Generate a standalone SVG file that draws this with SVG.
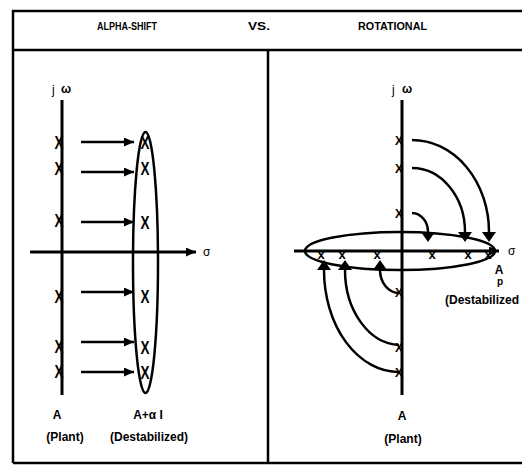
<svg xmlns="http://www.w3.org/2000/svg" width="522" height="465" viewBox="0 0 522 465">
<style>
.frame{stroke:#000;stroke-width:2.5;fill:none}
.axis{stroke:#000;stroke-width:3;fill:none}
.ln{stroke:#000;stroke-width:2.5;fill:none}
.t{font-family:"Liberation Sans",Arial,sans-serif;font-weight:bold;fill:#000}
.h{font-size:10.5px}
.lbl{font-size:12px}
.xm{font-size:18px;text-anchor:middle}
.xs{font-size:13px;text-anchor:middle}
</style>
<defs>
<marker id="ah" viewBox="0 0 10 9" refX="10" refY="4.5" markerWidth="10" markerHeight="9" markerUnits="userSpaceOnUse" orient="auto"><path d="M0,0 L10,4.5 L0,9 z" fill="#000"/></marker>
<marker id="tri" viewBox="0 0 10 14" refX="0" refY="7" markerWidth="10" markerHeight="14" markerUnits="userSpaceOnUse" orient="auto"><path d="M0,0 L10,7 L0,14 z" fill="#000"/></marker>
</defs>
<g id="frame">
<path class="frame" d="M13,463 V11 H522"/>
<path class="frame" d="M13,50 H522"/>
<path class="frame" d="M13,463 H522"/>
<path class="frame" d="M268,50 V463"/>
</g>
<g id="header">
<text class="t h" x="97" y="30" textLength="60" lengthAdjust="spacingAndGlyphs">ALPHA-SHIFT</text>
<text class="t h" x="248" y="30" textLength="22" lengthAdjust="spacingAndGlyphs">VS.</text>
<text class="t h" x="358" y="30" textLength="69" lengthAdjust="spacingAndGlyphs">ROTATIONAL</text>
</g>
<g id="left-axes">
<path class="axis" d="M62,100 V395"/>
<path class="axis" d="M30,252 H196" marker-end="url(#ah)"/>
<text class="t lbl" x="52" y="94" style="font-weight:normal">j</text>
<text class="t lbl" x="61" y="93">ω</text>
<text class="t lbl" x="203" y="256" style="font-weight:normal">σ</text>
</g>
<g id="left-plant-poles">
<text class="t xm" x="59" y="149" textLength="9" lengthAdjust="spacingAndGlyphs">X</text>
<text class="t xm" x="59" y="175" textLength="9" lengthAdjust="spacingAndGlyphs">X</text>
<text class="t xm" x="59" y="227" textLength="9" lengthAdjust="spacingAndGlyphs">X</text>
<text class="t xm" x="59" y="303" textLength="9" lengthAdjust="spacingAndGlyphs">X</text>
<text class="t xm" x="59" y="353" textLength="9" lengthAdjust="spacingAndGlyphs">X</text>
<text class="t xm" x="59" y="378" textLength="9" lengthAdjust="spacingAndGlyphs">X</text>
</g>
<g id="left-destabilized">
<ellipse class="ln" cx="145.5" cy="262.5" rx="12.5" ry="130.5"/>
<text class="t xm" x="145" y="149" textLength="9" lengthAdjust="spacingAndGlyphs">X</text>
<text class="t xm" x="145" y="175" textLength="9" lengthAdjust="spacingAndGlyphs">X</text>
<text class="t xm" x="145" y="229" textLength="9" lengthAdjust="spacingAndGlyphs">X</text>
<text class="t xm" x="145" y="303" textLength="9" lengthAdjust="spacingAndGlyphs">X</text>
<text class="t xm" x="145" y="354" textLength="9" lengthAdjust="spacingAndGlyphs">X</text>
<text class="t xm" x="145" y="379" textLength="9" lengthAdjust="spacingAndGlyphs">X</text>
</g>
<g id="left-connectors">
<path class="ln" d="M81,142 H134" marker-end="url(#ah)"/>
<path class="ln" d="M81,172 H134" marker-end="url(#ah)"/>
<path class="ln" d="M81,222 H134" marker-end="url(#ah)"/>
<path class="ln" d="M81,292 H134" marker-end="url(#ah)"/>
<path class="ln" d="M81,342 H134" marker-end="url(#ah)"/>
<path class="ln" d="M81,372 H134" marker-end="url(#ah)"/>
</g>
<g id="left-labels">
<text class="t lbl" x="57" y="419" text-anchor="middle">A</text>
<text class="t lbl" x="65" y="441" text-anchor="middle">(Plant)</text>
<text class="t lbl" x="148" y="419" text-anchor="middle">A+α I</text>
<text class="t lbl" x="149" y="441" text-anchor="middle">(Destabilized)</text>
</g>
<g id="right-axes">
<path class="axis" d="M402,100 V395"/>
<path class="axis" d="M294,251 H499" marker-end="url(#ah)"/>
<text class="t lbl" x="392" y="94" style="font-weight:normal">j</text>
<text class="t lbl" x="402" y="93">ω</text>
<text class="t lbl" x="508" y="255" style="font-weight:normal">σ</text>
</g>
<g id="right-plant-poles">
<text class="t xs" x="399" y="145" textLength="8" lengthAdjust="spacingAndGlyphs">X</text>
<text class="t xs" x="399" y="173" textLength="8" lengthAdjust="spacingAndGlyphs">X</text>
<text class="t xs" x="399" y="218" textLength="8" lengthAdjust="spacingAndGlyphs">X</text>
<text class="t xs" x="399" y="297" textLength="8" lengthAdjust="spacingAndGlyphs">X</text>
<text class="t xs" x="399" y="352" textLength="8" lengthAdjust="spacingAndGlyphs">X</text>
<text class="t xs" x="399" y="377" textLength="8" lengthAdjust="spacingAndGlyphs">X</text>
</g>
<g id="right-destabilized">
<ellipse class="ln" cx="400" cy="251" rx="95" ry="19"/>
<text class="t xs" x="321" y="259">x</text>
<text class="t xs" x="342" y="259">x</text>
<text class="t xs" x="377" y="259">x</text>
<text class="t xs" x="432" y="259">x</text>
<text class="t xs" x="468" y="259">x</text>
<text class="t xs" x="488" y="259">x</text>
</g>
<g id="right-connectors">
<path class="ln" d="M412,140 A77,92 0 0 1 489,232" marker-end="url(#tri)"/>
<path class="ln" d="M412,168 A53,64 0 0 1 465,232" marker-end="url(#tri)"/>
<path class="ln" d="M412,213 A16,19 0 0 1 428,232" marker-end="url(#tri)"/>
<path class="ln" d="M399,372 A75,102 0 0 1 324,270" marker-end="url(#tri)"/>
<path class="ln" d="M399,345 A56,75 0 0 1 345,270" marker-end="url(#tri)"/>
<path class="ln" d="M399,293 A19,23 0 0 1 380,270" marker-end="url(#tri)"/>
</g>
<g id="right-labels">
<text class="t lbl" x="402" y="420" text-anchor="middle">A</text>
<text class="t lbl" x="403" y="443" text-anchor="middle">(Plant)</text>
<text class="t lbl" x="499" y="274" text-anchor="middle">A</text>
<text class="t lbl" x="500" y="285" text-anchor="middle" style="font-size:10px">p</text>
<text class="t lbl" x="445" y="304">(Destabilized</text>
</g>
</svg>
